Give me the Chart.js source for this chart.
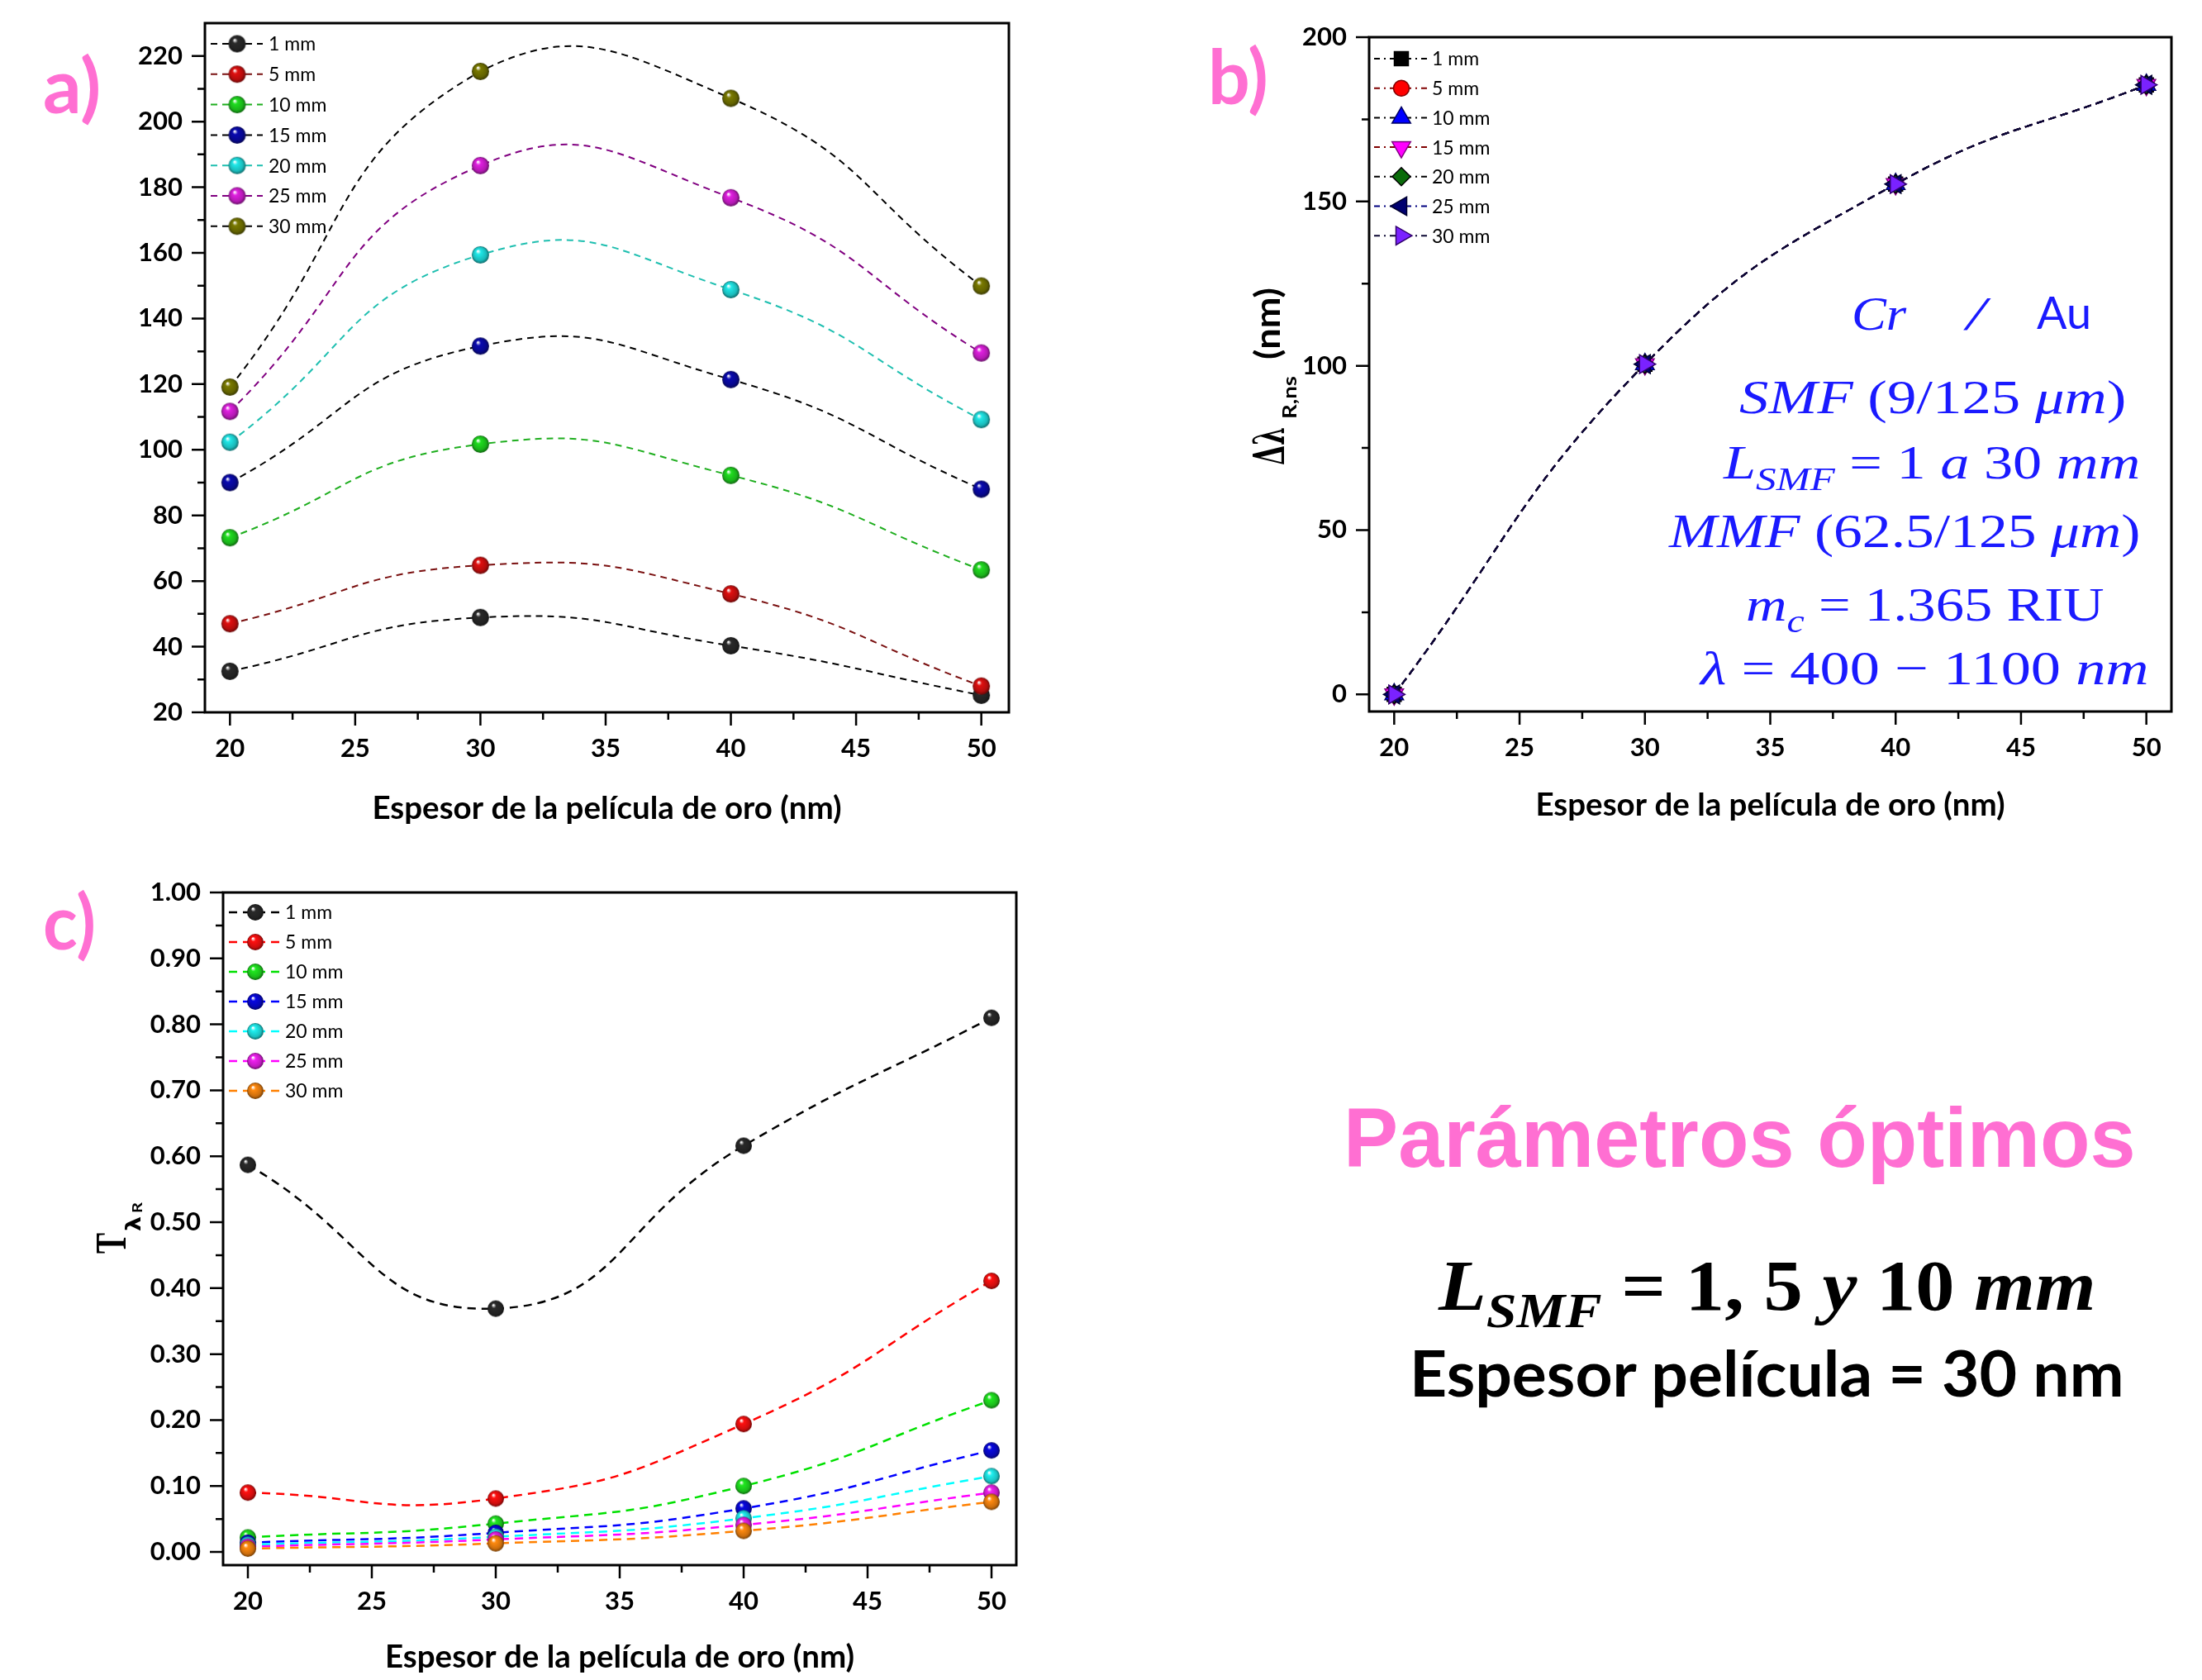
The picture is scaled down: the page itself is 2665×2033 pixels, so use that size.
<!DOCTYPE html>
<html>
<head>
<meta charset="utf-8">
<title>Espesor de la película de oro</title>
<script src="https://cdn.jsdelivr.net/npm/chart.js@4.4.1/dist/chart.umd.min.js"></script>
<style>
  html, body { margin: 0; padding: 0; background: #fff; }
  body { width: 2665px; height: 2033px; position: relative; overflow: hidden; }
  canvas { position: absolute; }
  .t { position: absolute; white-space: nowrap; line-height: 1; transform-origin: 0 50%; transform: translateY(-50%); }
  .pink { color: #ff6fd2; font-family: Lato, sans-serif; font-weight: bold; }
  .math { font-family: "Liberation Serif", serif; color: #1a1aff; font-size: 58px; }
  .blk { font-family: "Liberation Serif", serif; color: #000; font-weight: bold; font-size: 86px; }
  sub { font-size: 0.7em; line-height: 0; vertical-align: -0.35em; }
</style>
</head>
<body>
<canvas id="chartA" width="1250" height="1010" style="left:0;top:0"></canvas>
<canvas id="chartB" width="1225" height="1010" style="left:1440px;top:0"></canvas>
<canvas id="chartC" width="1250" height="993" style="left:0;top:1040px"></canvas>

<div class="t pink" data-w="70" style="left:52px;top:102px;font-size:92px">a)</div>
<div class="t pink" data-w="73" style="left:1462px;top:91px;font-size:92px">b)</div>
<div class="t pink" data-w="64" style="left:52px;top:1114px;font-size:92px">c)</div>

<div class="t math" data-w="66" style="left:2241px;top:380px"><i>Cr</i></div>
<div class="t math" data-w="23" style="left:2380px;top:380px"><i>/</i></div>
<div class="t math" data-w="66" style="left:2465px;top:378px;font-family:Lato,sans-serif;font-size:54px">Au</div>
<div class="t math" data-w="469" style="left:2105px;top:481px"><i>SMF</i> (9/125 <i>μm</i>)</div>
<div class="t math" data-w="504" style="left:2086px;top:560px"><i>L</i><sub><i>SMF</i></sub> = 1 <i>a</i> 30 <i>mm</i></div>
<div class="t math" data-w="570" style="left:2020px;top:643px"><i>MMF</i> (62.5/125 <i>μm</i>)</div>
<div class="t math" data-w="434" style="left:2113px;top:732px"><i>m</i><sub><i>c</i></sub> = 1.365 RIU</div>
<div class="t math" data-w="543" style="left:2058px;top:809px"><i>λ</i> = 400 − 1100 <i>nm</i></div>

<div class="t" data-w="958" style="left:1626px;top:1377px;font-family:'Liberation Sans',sans-serif;font-weight:bold;font-size:102px;color:#ff6fd2">Parámetros óptimos</div>
<div class="t blk" data-w="795" style="left:1741px;top:1556px"><i>L</i><sub><i>SMF</i></sub> = 1, 5 <i>y</i> 10 <i>mm</i></div>
<div class="t" data-w="865" style="left:1706px;top:1660px;font-family:Lato,sans-serif;font-weight:bold;font-size:77px;color:#000">Espesor película = 30 nm</div>

<script>
// film thickness (nm) and SMF lengths
const thickness = [20, 30, 40, 50];
const lengths = ['1 mm', '5 mm', '10 mm', '15 mm', '20 mm', '25 mm', '30 mm'];

// a) values per SMF length (y title missing in the source)
const shiftA1 = [32.5, 48.9, 40.3, 25.2];
const shiftA5 = [47.0, 64.8, 56.1, 28.0];
const shiftA10 = [73.2, 101.7, 92.2, 63.4];
const shiftA15 = [90.0, 131.6, 121.4, 88.0];
const shiftA20 = [102.3, 159.4, 148.8, 109.2];
const shiftA25 = [111.7, 186.6, 176.8, 129.5];
const shiftA30 = [119.1, 215.3, 207.1, 149.9];

// b) Δλ R,ns (nm) - all lengths overlap
const deltaB1 = [0, 100.5, 155.3, 185.5];
const deltaB5 = [0, 100.5, 155.3, 185.5];
const deltaB10 = [0, 100.5, 155.3, 185.5];
const deltaB15 = [0, 100.5, 155.3, 185.5];
const deltaB20 = [0, 100.5, 155.3, 185.5];
const deltaB25 = [0, 100.5, 155.3, 185.5];
const deltaB30 = [0, 100.5, 155.3, 185.5];

// c) T λR
const transC1 = [0.587, 0.369, 0.616, 0.810];
const transC5 = [0.090, 0.081, 0.194, 0.411];
const transC10 = [0.022, 0.043, 0.100, 0.230];
const transC15 = [0.014, 0.029, 0.066, 0.154];
const transC20 = [0.011, 0.023, 0.051, 0.115];
const transC25 = [0.008, 0.019, 0.041, 0.090];
const transC30 = [0.005, 0.013, 0.032, 0.076];

// tick labels
const xTicks = [20, 25, 30, 35, 40, 45, 50];
const yTicksA = [20, 40, 60, 80, 100, 120, 140, 160, 180, 200, 220];
const yTicksB = [0, 50, 100, 150, 200];
const yTicksC = [0, 0.1, 0.2, 0.3, 0.4, 0.5, 0.6, 0.7, 0.8, 0.9, 1.0];

// styles
const lineColA = ['#000000', '#7a1010', '#1fae1f', '#000000', '#1fbfb0', '#800080', '#000000'];
const ballColA = ['#2a2a2a', '#e01010', '#20dd20', '#0a0ab0', '#20e8e8', '#e020e0', '#7a7a00'];
const lineColB = ['#000000', '#800000', '#000000', '#800000', '#000000', '#000080', '#0c0833'];
const fillB = ['#000000', '#ff0000', '#0000ff', '#ff00ff', '#0a6b0a', '#000070', '#7a22ff'];
const edgeB = ['#000000', '#800000', '#000060', '#800080', '#000000', '#000030', '#30006a'];
const shapeB = ['rect', 'circle', 'triangle', 'triangle', 'rectRot', 'triangle', 'triangle'];
const rotB = [0, 0, 0, 180, 0, -90, 90];
const radB = [12, 9.5, 13, 13, 11, 13, 13];
const colC = ['#000000', '#ff0000', '#00e000', '#0000ff', '#00ffff', '#ff00ff', '#ff8000'];
const ballColC = ['#2a2a2a', '#ff1010', '#20e820', '#0808e0', '#20f0f0', '#f020f0', '#ff8a10'];

const tickFont = { family: 'Lato', weight: 'bold', size: 31 };
const titleFont = { family: 'Lato', weight: 'bold', size: 38.5, lineHeight: 1.2 };

function shade(hex, f) {
  const n = parseInt(hex.slice(1), 16);
  const r = Math.round(((n >> 16) & 255) * f), g = Math.round(((n >> 8) & 255) * f), b = Math.round((n & 255) * f);
  return 'rgb(' + r + ',' + g + ',' + b + ')';
}

// shiny ball marker
function ball(color, r) {
  const c = document.createElement('canvas');
  const s = Math.ceil(r * 2 + 2);
  c.width = s; c.height = s;
  const g = c.getContext('2d');
  const cx = s / 2, cy = s / 2;
  const grad = g.createRadialGradient(cx - r * 0.3, cy - r * 0.45, r * 0.05, cx, cy, r);
  grad.addColorStop(0, '#ffffff');
  grad.addColorStop(0.25, color);
  grad.addColorStop(0.75, shade(color, 0.8));
  grad.addColorStop(1, shade(color, 0.45));
  g.fillStyle = grad;
  g.beginPath(); g.arc(cx, cy, r, 0, Math.PI * 2); g.fill();
  return c;
}

function pts(arr) {
  return thickness.map((t, k) => ({ x: t, y: arr[k] }));
}

function shapeMarker(ctx, ds, x, y) {
  const r = ds.pointRadius;
  ctx.save();
  ctx.translate(x, y);
  ctx.rotate((ds.pointRotation || 0) * Math.PI / 180);
  ctx.fillStyle = ds.pointBackgroundColor;
  ctx.strokeStyle = ds.pointBorderColor;
  ctx.lineWidth = ds.pointBorderWidth;
  ctx.beginPath();
  if (ds.pointStyle === 'circle') {
    ctx.arc(0, 0, r, 0, Math.PI * 2);
  } else if (ds.pointStyle === 'rect') {
    const s = r * Math.SQRT1_2;
    ctx.rect(-s, -s, 2 * s, 2 * s);
  } else if (ds.pointStyle === 'rectRot') {
    ctx.moveTo(0, -r); ctx.lineTo(r, 0); ctx.lineTo(0, r); ctx.lineTo(-r, 0); ctx.closePath();
  } else {
    for (let k = 0; k < 3; k++) {
      const an = k * 2 * Math.PI / 3;
      ctx.lineTo(Math.sin(an) * r, -Math.cos(an) * r);
    }
    ctx.closePath();
  }
  ctx.fill();
  ctx.stroke();
  ctx.restore();
}

function fitText(ctx, text, font, x, y, w) {
  ctx.font = font;
  const m = ctx.measureText(text).width;
  ctx.save();
  ctx.translate(x, y);
  ctx.scale(w / m, 1);
  ctx.fillText(text, 0, 0);
  ctx.restore();
}

// per chart extras: legend placement and y axis titles
const extras = {
  chartA: { legend: { x0: 7, xm: 39, x1: 70, xt: 77, row0: 25, gap: 36.8 } },
  chartB: {
    legend: { x0: 6, xm: 39, x1: 72, xt: 76, row0: 26, gap: 35.7, dash: [7, 5, 2, 5] },
    yTitle(ctx) {
      ctx.save();
      ctx.translate(114, 563);
      ctx.rotate(-Math.PI / 2);
      ctx.fillStyle = '#000';
      ctx.textBaseline = 'alphabetic';
      fitText(ctx, 'Δλ', 'bold 52px "DejaVu Serif"', 0, 0, 46);
      fitText(ctx, 'R,ns', 'bold 23px Lato', 56, 15, 52);
      fitText(ctx, '(nm)', 'bold 42px Lato', 128, -5, 87);
      ctx.restore();
    }
  },
  chartC: {
    legend: { x0: 7, xm: 39, x1: 71, xt: 75, row0: 24, gap: 36 },
    yTitle(ctx) {
      ctx.save();
      ctx.translate(152, 444);
      ctx.rotate(-Math.PI / 2);
      ctx.fillStyle = '#000';
      ctx.textBaseline = 'alphabetic';
      fitText(ctx, 'T', 'bold 52px "Liberation Serif"', -33, 0, 25);
      fitText(ctx, 'λ', 'bold 24px "DejaVu Sans"', -6, 18, 18);
      fitText(ctx, 'R', 'bold 17px Lato', 16, 20, 13);
      ctx.restore();
    }
  }
};

const framePlugin = {
  id: 'frame',
  afterDraw(chart) {
    const ctx = chart.ctx, a = chart.chartArea;
    const xs = chart.scales.x, ys = chart.scales.y;
    const ex = extras[chart.canvas.id];
    ctx.save();
    ctx.strokeStyle = '#000';
    ctx.lineWidth = 3;
    ctx.strokeRect(a.left, a.top, a.right - a.left, a.bottom - a.top);
    ctx.lineWidth = 2.5;
    ctx.beginPath();
    const xv = xs.ticks.map(t => t.value);
    xv.forEach((v, i) => {
      const p = xs.getPixelForValue(v);
      ctx.moveTo(p, a.bottom); ctx.lineTo(p, a.bottom + 16);
      if (i < xv.length - 1) {
        const q = xs.getPixelForValue((v + xv[i + 1]) / 2);
        ctx.moveTo(q, a.bottom); ctx.lineTo(q, a.bottom + 9);
      }
    });
    const yv = ys.ticks.map(t => t.value);
    yv.forEach((v, i) => {
      const p = ys.getPixelForValue(v);
      ctx.moveTo(a.left, p); ctx.lineTo(a.left - 16, p);
      if (i < yv.length - 1) {
        const q = ys.getPixelForValue((v + yv[i + 1]) / 2);
        ctx.moveTo(a.left, q); ctx.lineTo(a.left - 9, q);
      }
    });
    ctx.stroke();
    ctx.restore();

    // legend: dashed line + marker + label
    const L = ex.legend;
    chart.data.datasets.forEach((ds, i) => {
      const y = a.top + L.row0 + i * L.gap;
      ctx.save();
      ctx.strokeStyle = ds.borderColor;
      ctx.lineWidth = ds.borderWidth;
      ctx.setLineDash(L.dash || ds.borderDash);
      ctx.beginPath();
      ctx.moveTo(a.left + L.x0, y);
      ctx.lineTo(a.left + L.x1, y);
      ctx.stroke();
      ctx.setLineDash([]);
      if (ds.pointStyle instanceof HTMLCanvasElement) {
        const s = ds.pointStyle;
        ctx.drawImage(s, a.left + L.xm - s.width / 2, y - s.height / 2);
      } else {
        shapeMarker(ctx, ds, a.left + L.xm, y);
      }
      ctx.fillStyle = '#000';
      ctx.font = '23px Lato';
      ctx.textBaseline = 'middle';
      ctx.textAlign = 'left';
      ctx.fillText(ds.label, a.left + L.xt, y + 1);
      ctx.restore();
    });

    if (ex.yTitle) ex.yTitle(ctx);
  }
};

function buildChart(id, o) {
  return new Chart(document.getElementById(id), {
    type: 'line',
    data: { datasets: o.datasets },
    options: {
      responsive: false,
      animation: false,
      devicePixelRatio: 1,
      events: [],
      layout: { padding: { left: 0, top: o.top, right: o.right, bottom: 0 } },
      plugins: { legend: { display: false }, tooltip: { enabled: false } },
      scales: {
        x: {
          type: 'linear',
          min: o.xMin,
          max: o.xMax,
          afterBuildTicks: s => { s.ticks = xTicks.map(v => ({ value: v })); },
          afterFit: s => { s.height = o.xHeight; },
          grid: { display: false, drawTicks: true, tickLength: 19 },
          border: { display: false },
          ticks: { padding: 6, color: '#000', font: tickFont, maxRotation: 0, autoSkip: false },
          title: {
            display: true,
            text: 'Espesor de la película de oro (nm)',
            color: '#000',
            font: titleFont,
            padding: { top: 0, bottom: o.titlePad }
          }
        },
        y: {
          type: 'linear',
          min: o.yMin,
          max: o.yMax,
          afterBuildTicks: s => { s.ticks = o.yTicks.map(v => ({ value: v })); },
          afterFit: s => { s.width = o.yWidth; },
          grid: { display: false, drawTicks: true, tickLength: 22 },
          border: { display: false },
          ticks: { padding: 5, color: '#000', font: tickFont, autoSkip: false, callback: o.yFmt }
        }
      }
    },
    plugins: [framePlugin]
  });
}

const seriesA = [shiftA1, shiftA5, shiftA10, shiftA15, shiftA20, shiftA25, shiftA30];
const seriesB = [deltaB1, deltaB5, deltaB10, deltaB15, deltaB20, deltaB25, deltaB30];
const seriesC = [transC1, transC5, transC10, transC15, transC20, transC25, transC30];

buildChart('chartA', {
  top: 28, right: 29, yWidth: 248, xHeight: 148, titlePad: 8,
  xMin: 19, xMax: 51.1, yMin: 20, yMax: 230, yTicks: yTicksA,
  yFmt: v => String(v),
  datasets: seriesA.map((arr, i) => ({
    label: lengths[i],
    data: pts(arr),
    borderColor: lineColA[i],
    borderWidth: 2,
    borderDash: [8, 6],
    tension: 0.5,
    pointStyle: ball(ballColA[i], 10.5),
    pointRadius: 10,
    order: 6 - i
  }))
});

buildChart('chartB', {
  top: 45, right: 37, yWidth: 217, xHeight: 149, titlePad: 12,
  xMin: 19, xMax: 51, yMin: -5.2, yMax: 200, yTicks: yTicksB,
  yFmt: v => String(v),
  datasets: seriesB.map((arr, i) => ({
    label: lengths[i],
    data: pts(arr),
    borderColor: lineColB[i],
    borderWidth: 2,
    borderDash: [9, 6],
    tension: 0.45,
    pointStyle: shapeB[i],
    pointRotation: rotB[i],
    pointRadius: radB[i],
    pointBackgroundColor: fillB[i],
    pointBorderColor: edgeB[i],
    pointBorderWidth: 1.5,
    order: 6 - i
  }))
});

buildChart('chartC', {
  top: 40, right: 20, yWidth: 270, xHeight: 139, titlePad: 4,
  xMin: 19, xMax: 51, yMin: -0.02, yMax: 1.0, yTicks: yTicksC,
  yFmt: v => v.toFixed(2),
  datasets: seriesC.map((arr, i) => ({
    label: lengths[i],
    data: pts(arr),
    borderColor: colC[i],
    borderWidth: 2.5,
    borderDash: [10, 7],
    tension: 0.5,
    pointStyle: ball(ballColC[i], 10),
    pointRadius: 10,
    order: 6 - i
  }))
});

// stretch the free text to the widths measured on the reference
document.querySelectorAll('.t[data-w]').forEach(el => {
  const k = parseFloat(el.dataset.w) / el.offsetWidth;
  el.style.transform = 'translateY(-50%) scaleX(' + k.toFixed(3) + ')';
});
</script>
</body>
</html>
